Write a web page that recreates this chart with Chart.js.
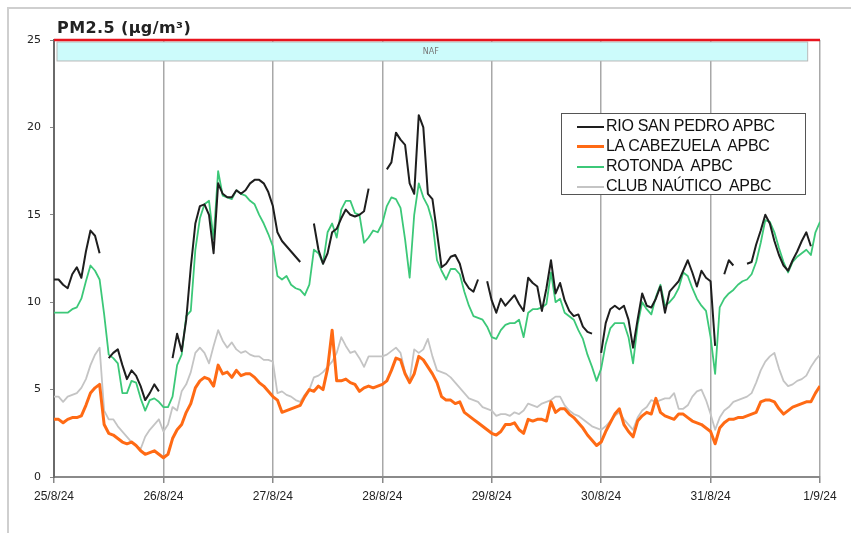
<!DOCTYPE html>
<html>
<head>
<meta charset="utf-8">
<script src="https://cdn.jsdelivr.net/npm/chart.js@4.4.1/dist/chart.umd.min.js"></script>
<style>
  body { margin: 0; background: #fff; }
  #wrap { position: relative; width: 851px; height: 533px; overflow: hidden; }
  #frame { position: absolute; left: 7px; top: 7px; right: -5px; bottom: -5px; border: 2px solid #cfcfcf; }
  #titulo { position: absolute; left: 57px; top: 18px; font: bold 16px "DejaVu Sans", Verdana, sans-serif; color: #222; letter-spacing: 0.4px; }
  #leyenda { position: absolute; left: 561px; top: 113px; width: 243px; height: 80px; border: 1.5px solid #555; background: #fff;
             font: 16px "Liberation Sans", Arial, sans-serif; color: #111; letter-spacing: -0.3px; }
  .fila { position: absolute; left: 15px; height: 20px; line-height: 20px; white-space: pre; }
  .fila span.m { display: inline-block; width: 27px; vertical-align: middle; margin-right: 2px; }
</style>
</head>
<body>
<div id="wrap">
  <div id="frame"></div>
  <canvas id="grafico" width="851" height="533"></canvas>
  <div id="titulo">PM2.5 (µg/m³)</div>
  <div id="leyenda"></div>
</div>
<script>
// hourly PM2.5 values, 25/8/24 00:00 -> 1/9/24 00:00 (169 points), null = no data
const dias = ['25/8/24', '26/8/24', '27/8/24', '28/8/24', '29/8/24', '30/8/24', '31/8/24', '1/9/24'];

const rioSanPedro = [
  11.3, 11.3, 11.0, 10.8, 11.6, 12.0, 11.4, 12.9, 14.1, 13.8, 12.8, null, 6.8, 7.1, 7.3, 6.4, 5.6, 6.1, 5.8, 5.2, 4.4, 4.8, 5.3, 4.9,
  null, null, 6.8, 8.2, 7.2, 9.0, 12.0, 14.5, 15.5, 15.6, 15.0, 12.8, 16.8, 16.2, 16.0, 16.0, 16.4, 16.2, 16.4, 16.8, 17.0, 17.0, 16.8, 16.3,
  15.5, 14.0, 13.5, 13.2, 12.9, 12.6, 12.3, null, null, 14.5, 13.0, 12.2, 12.8, 14.0, 14.2, 14.8, 15.3, 15.0, 14.9, 15.0, 15.2, 16.5, null, null,
  null, 17.6, 18.0, 19.7, 19.3, 19.0, 16.8, 16.2, 20.7, 20.0, 16.2, 15.9, 14.0, 12.0, 12.2, 12.6, 12.7, 12.2, 11.2, 10.8, 10.6, 11.3, null, 11.2,
  10.1, 9.4, 10.2, 9.8, 10.1, 10.4, 9.9, 9.5, 11.4, 11.1, 10.9, 9.5, 10.8, 12.4, 10.5, 11.1, 10.1, 9.5, 9.2, 9.3, 8.6, 8.3, 8.2, null,
  7.1, 8.8, 9.6, 9.8, 9.6, 9.8, 9.0, 7.4, 9.0, 10.5, 9.8, 9.7, 10.2, 10.9, 9.4, 10.6, 10.9, 11.2, 11.8, 12.4, 11.7, 10.9, 11.8, 11.4,
  11.2, 7.5, null, 11.6, 12.4, 12.1, null, null, 12.2, 12.3, 13.3, 14.1, 15.0, 14.5, 13.5, 12.7, 12.1, 11.8, 12.4, 12.9, 13.5, 14.0, 13.2, null,
  null
];

const laCabezuela = [
  3.3, 3.3, 3.1, 3.3, 3.4, 3.4, 3.5, 4.1, 4.8, 5.1, 5.3, 3.0, 2.5, 2.4, 2.2, 2.0, 1.9, 2.0, 1.8, 1.5, 1.3, 1.4, 1.5, 1.3,
  1.1, 1.3, 2.2, 2.7, 3.0, 3.7, 4.2, 5.1, 5.5, 5.7, 5.6, 5.2, 6.4, 5.9, 6.0, 5.7, 6.1, 5.8, 5.9, 5.9, 5.7, 5.4, 5.2, 4.9,
  4.6, 4.4, 3.7, 3.8, 3.9, 4.0, 4.1, 4.6, 5.0, 4.9, 5.2, 5.0, 6.2, 8.4, 5.5, 5.5, 5.6, 5.4, 5.3, 4.9, 5.1, 5.2, 5.1, 5.2,
  5.3, 5.5, 6.1, 6.8, 6.7, 5.9, 5.4, 5.9, 6.9, 6.7, 6.3, 5.9, 5.4, 4.6, 4.4, 4.4, 4.2, 4.3, 3.7, 3.5, 3.3, 3.1, 2.9, 2.7,
  2.5, 2.4, 2.6, 3.0, 3.0, 3.1, 2.7, 2.5, 3.3, 3.2, 3.3, 3.3, 3.2, 4.3, 3.7, 3.9, 3.9, 3.6, 3.4, 3.1, 2.8, 2.4, 2.1, 1.8,
  2.0, 2.6, 3.1, 3.6, 3.9, 3.0, 2.6, 2.3, 3.2, 3.5, 3.7, 3.6, 4.5, 3.7, 3.5, 3.4, 3.3, 3.6, 3.6, 3.4, 3.2, 3.1, 3.0, 2.8,
  2.6, 1.9, 2.8, 3.1, 3.3, 3.3, 3.4, 3.4, 3.5, 3.6, 3.7, 4.3, 4.4, 4.4, 4.3, 3.9, 3.6, 3.8, 4.0, 4.1, 4.2, 4.3, 4.3, 4.8,
  5.2
];

const rotonda = [
  9.4, 9.4, 9.4, 9.4, 9.6, 9.7, 10.2, 11.2, 12.1, 11.8, 11.3, 9.3, 7.0, 6.8, 6.5, 4.8, 4.8, 5.5, 5.4, 4.5, 3.8, 4.4, 4.5, 4.3,
  4.0, 4.0, 4.6, 6.4, 7.0, 9.2, 9.5, 13.0, 14.8, 15.6, 15.8, 13.6, 17.5, 16.1, 16.0, 15.9, 16.4, 16.2, 16.1, 15.8, 15.6, 15.0, 14.5, 13.9,
  13.2, 11.5, 11.3, 11.5, 11.0, 10.8, 10.7, 10.4, 11.0, 13.0, 12.8, 12.2, 14.0, 14.5, 13.7, 15.3, 15.8, 15.8, 15.1, 15.0, 13.4, 13.7, 14.1, 14.0,
  14.5, 15.5, 16.0, 15.9, 15.4, 13.6, 11.4, 15.0, 16.8, 16.0, 15.5, 14.6, 12.4, 11.8, 11.3, 11.9, 11.9, 11.6, 10.6, 9.8, 9.2, 9.1, 9.0, 8.6,
  8.0, 7.9, 8.4, 8.7, 8.8, 8.8, 9.0, 8.0, 9.4, 9.6, 9.6, 9.7, 9.9, 11.7, 10.0, 10.2, 9.4, 9.2, 9.0, 8.4, 7.9, 7.0, 6.3, 5.5,
  6.2, 7.6, 8.5, 8.8, 8.8, 8.8, 8.0, 6.5, 8.7, 10.0, 9.6, 9.3, 10.3, 11.0, 9.8, 10.0, 10.3, 10.8, 11.7, 11.5, 10.8, 10.2, 9.8, 9.5,
  8.0, 5.9, 9.7, 10.2, 10.5, 10.7, 11.0, 11.2, 11.3, 11.6, 12.3, 13.4, 14.7, 14.6, 14.0, 13.1, 12.3, 11.7, 12.3, 12.6, 12.8, 13.0, 12.7, 14.0,
  14.6
];

const clubNautico = [
  4.6, 4.6, 4.3, 4.6, 4.7, 4.8, 5.1, 5.6, 6.4, 7.0, 7.4, 3.8, 3.3, 3.3, 2.9, 2.6, 2.3, 2.0, 1.8, 1.6, 2.3, 2.7, 3.0, 3.3,
  2.6, 3.0, 4.0, 3.8, 4.9, 5.3, 6.0, 7.1, 7.4, 7.1, 6.5, 7.5, 8.4, 7.8, 7.4, 7.7, 7.3, 7.1, 7.2, 7.0, 6.9, 6.9, 6.7, 6.7,
  6.6, 4.8, 4.9, 4.7, 4.6, 4.4, 4.3, 4.7, 5.0, 5.7, 5.8, 6.0, 6.3, 6.6, 7.1, 8.0, 7.5, 7.1, 7.2, 6.8, 6.3, 6.9, 6.9, 6.9,
  6.9, 7.0, 7.2, 7.4, 7.1, 6.0, 5.5, 7.3, 7.1, 7.3, 7.9, 6.9, 6.1, 6.0, 5.9, 5.7, 5.4, 5.1, 4.8, 4.5, 4.4, 4.3, 4.0, 3.9,
  3.8, 3.5, 3.6, 3.6, 3.5, 3.7, 3.6, 3.8, 4.2, 4.1, 4.0, 4.2, 4.3, 4.4, 4.6, 4.6, 4.1, 3.8, 3.6, 3.5, 3.3, 3.1, 2.9, 2.8,
  2.7, 2.9, 3.2, 3.5, 3.7, 3.3, 3.0, 2.7, 3.4, 3.8, 4.0, 4.4, 4.3, 4.4, 4.5, 4.5, 4.8, 3.9, 3.9, 4.1, 4.6, 4.9, 5.0, 4.4,
  3.6, 2.7, 3.4, 3.8, 4.0, 4.3, 4.4, 4.5, 4.6, 4.8, 5.4, 6.1, 6.6, 6.9, 7.1, 6.2, 5.5, 5.2, 5.3, 5.5, 5.6, 5.8, 6.3, 6.7,
  7.0
];

const series = [
  { nombre: 'RIO SAN PEDRO APBC', datos: rioSanPedro, color: '#1e1e1e', ancho: 2, orden: 0 },
  { nombre: 'LA CABEZUELA  APBC', datos: laCabezuela, color: '#ff6a14', ancho: 3, orden: 2 },
  { nombre: 'ROTONDA  APBC', datos: rotonda, color: '#3cc878', ancho: 1.8, orden: 1 },
  { nombre: 'CLUB NAÚTICO  APBC', datos: clubNautico, color: '#c4c4c4', ancho: 1.8, orden: 3 },
];

// legend (html, boxed like the original)
const leyenda = document.getElementById('leyenda');
series.forEach((s, i) => {
  const fila = document.createElement('div');
  fila.className = 'fila';
  fila.style.top = (2 + i * 20) + 'px';
  fila.innerHTML = `<span class="m" style="border-top:${s.ancho + 0.5}px solid ${s.color}"></span>${s.nombre}`;
  leyenda.appendChild(fila);
});

// red limit line at 25 and the NAF band under it
const bandaNAF = {
  id: 'bandaNAF',
  beforeDatasetsDraw(chart) {
    const { ctx, chartArea, scales } = chart;
    const y25 = scales.y.getPixelForValue(25);
    const yBajo = scales.y.getPixelForValue(23.8);
    const xFin = scales.x.getPixelForValue(165.3);
    ctx.save();
    ctx.fillStyle = '#ccfbfb';
    ctx.strokeStyle = '#b8b8b8';
    ctx.lineWidth = 1;
    ctx.fillRect(chartArea.left + 3, y25 + 2, xFin - chartArea.left - 3, yBajo - y25 - 2);
    ctx.strokeRect(chartArea.left + 3, y25 + 2, xFin - chartArea.left - 3, yBajo - y25 - 2);
    ctx.fillStyle = '#777';
    ctx.font = '8px "DejaVu Sans", sans-serif';
    ctx.textAlign = 'center';
    ctx.textBaseline = 'middle';
    ctx.fillText('NAF', (chartArea.left + xFin) / 2, (y25 + yBajo) / 2 + 1);
    ctx.strokeStyle = '#e8141e';
    ctx.lineWidth = 2.5;
    ctx.beginPath();
    ctx.moveTo(chartArea.left, y25);
    ctx.lineTo(chartArea.right, y25);
    ctx.stroke();
    ctx.restore();
  }
};

const ctx = document.getElementById('grafico').getContext('2d');
new Chart(ctx, {
  type: 'line',
  data: {
    datasets: series.map(s => ({
      label: s.nombre,
      data: s.datos.map((v, i) => ({ x: i, y: v })),
      borderColor: s.color,
      borderWidth: s.ancho,
      pointRadius: 0,
      tension: 0,
      spanGaps: false,
      borderJoinStyle: 'round',
      order: s.orden,
    })),
  },
  options: {
    responsive: false,
    animation: false,
    layout: { padding: { left: 0, right: 31, top: 40, bottom: 0 } },
    plugins: { legend: { display: false }, tooltip: { enabled: false } },
    scales: {
      x: {
        type: 'linear',
        min: 0,
        max: 168,
        afterFit: (scale) => { scale.height = 56; },
        ticks: {
          stepSize: 24,
          padding: 6,
          color: '#222',
          font: { family: '"Liberation Sans", Arial, sans-serif', size: 12 },
          maxRotation: 0,
          callback: (v) => dias[v / 24],
        },
        grid: { color: '#a8a8a8', lineWidth: 1.5, tickLength: 6, tickColor: '#888' },
        border: { color: '#8a8a8a', width: 2 },
      },
      y: {
        min: 0,
        max: 25,
        afterFit: (scale) => { scale.width = 54; },
        ticks: {
          stepSize: 5,
          padding: 9,
          color: '#222',
          font: { family: '"DejaVu Sans", Verdana, sans-serif', size: 11 },
        },
        grid: { drawOnChartArea: false, tickLength: 4, color: '#888' },
        border: { color: '#6a6a6a', width: 2 },
      },
    },
  },
  plugins: [bandaNAF],
});
</script>
</body>
</html>
